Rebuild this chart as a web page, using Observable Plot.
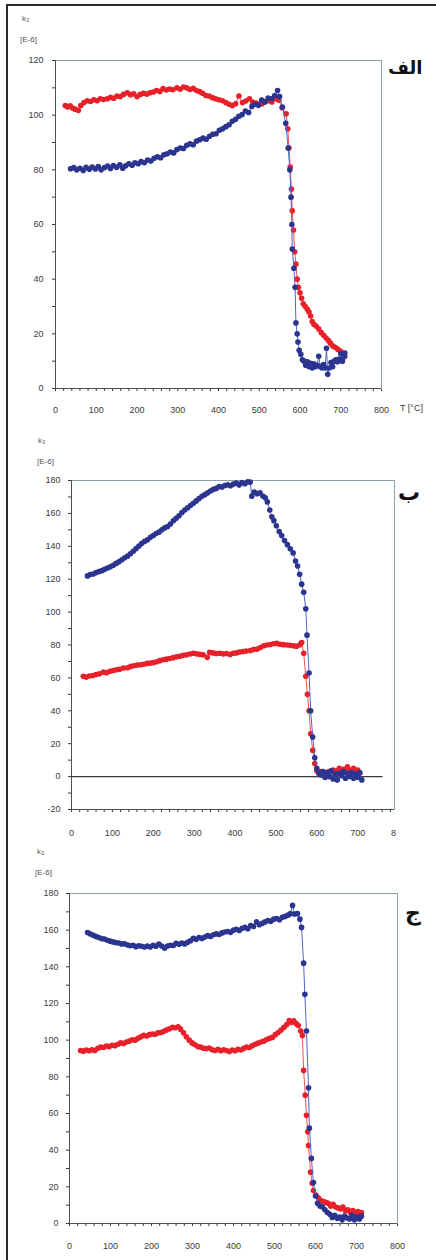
<!DOCTYPE html>
<html><head><meta charset="utf-8">
<script src="https://cdn.jsdelivr.net/npm/d3@7"></script>
<script src="https://cdn.jsdelivr.net/npm/@observablehq/plot@0.6"></script>
<style>
html,body{margin:0;padding:0;background:#fff}
body{width:436px;height:1260px;overflow:hidden;position:relative}
#border{position:absolute;left:6px;top:4px;width:450px;height:1280px;border:2px solid #2b2b2b;box-sizing:border-box}
.panel{position:absolute;left:0;overflow:hidden}
.panel svg{max-width:none !important;display:block}
.tag{position:absolute;font-family:"DejaVu Sans",sans-serif;font-weight:bold;color:#111;direction:rtl;white-space:nowrap}
.unit{position:absolute;font-family:"Liberation Sans Narrow","Liberation Sans",Arial,sans-serif;font-size:8px;color:#555;line-height:10px;white-space:nowrap}
.tlab{position:absolute;font-family:"Liberation Sans Narrow","Liberation Sans",Arial,sans-serif;font-size:9px;color:#3a3a3a;white-space:nowrap}
</style></head>
<body>
<div id="border"></div>
<div id="p1" class="panel" style="top:0;width:436px"></div>
<div id="p2" class="panel" style="top:430px;width:396px"></div>
<div id="p3" class="panel" style="top:850px;width:436px"></div>
<div class="unit" style="left:22px;top:14px">k₃</div>
<div class="unit" style="left:20px;top:35px">[E-6]</div>
<div class="unit" style="left:38px;top:436px">k₃</div>
<div class="unit" style="left:37px;top:457px">[E-6]</div>
<div class="unit" style="left:37px;top:847px">k₃</div>
<div class="unit" style="left:35px;top:868px">[E-6]</div>
<div class="tlab" style="left:400px;top:403px">T [°C]</div>
<div class="tag" style="left:388px;top:57px;font-size:18px">الف</div>
<div class="tag" style="left:398px;top:480px;font-size:22px">ب</div>
<div class="tag" style="left:405px;top:900px;font-size:22px">ج</div>
<script>
// ---- Panel الف : k3 (E-6) vs T (°C)
const p1Red = [[24,103.5],[30,103],[36,103.4],[42,102.6],[48,102.2],[56,101.7],[62,103.5],[70,104.6],[78,105.3],[86,105],[94,105.6],[102,105.3],[110,106],[118,105.7],[127,106],[135,106.5],[143,106.2],[151,107],[159,106.8],[167,107.6],[176,108.2],[184,107.5],[192,107.8],[200,106.8],[208,107.6],[216,108],[224,107.7],[232,108.2],[240,108.5],[248,109],[256,108.7],[264,109.7],[272,109.2],[280,109.6],[288,109.3],[298,110],[306,109.5],[314,110.3],[322,110],[330,109.4],[338,109.8],[346,109],[354,108.6],[361,108],[369,107.2],[377,107],[385,106.4],[393,106],[401,105.6],[410,105.3],[418,104.6],[426,104],[434,103.5],[442,104.2],[450,107],[459,104.6],[467,105.2],[476,106],[484,104.8],[492,104.4],[500,104],[507,104.2],[515,105],[523,105.3],[531,104.8],[541,106],[548,105.5],[556,102.7],[566,100.5],[570,95],[573,88],[576,81],[579,73],[581,65],[584,58],[587,50],[590,45.5],[593,40],[596,37],[600,35],[604,33],[608,31],[613,30],[618,29],[622,28],[626,26.5],[630,24.5],[634,23.5],[640,22.8],[646,21.8],[652,20.5],[658,19.5],[664,18.5],[670,17.5],[675,16.5],[681,15.5],[687,15],[693,14.3],[700,13.6],[705,12.5],[710,11.8]];
const p1Blue = [[37,80.4],[45,80.8],[52,80],[60,80.6],[68,79.8],[75,80.9],[83,80.2],[90,81],[98,80.3],[105,81.2],[112,80],[120,80.8],[128,81.4],[135,80.5],[142,81.6],[150,80.9],[158,81.8],[165,80.6],[172,81.5],[180,82.2],[188,81.7],[195,82.6],[203,82.2],[210,83],[218,82.6],[226,83.6],[234,83.2],[242,84.2],[250,84.8],[258,84.4],[266,85.5],[274,85.9],[282,86.5],[290,86.2],[298,87.4],[306,88],[314,87.8],[322,89],[330,89.5],[338,89.2],[346,90.5],[354,91],[362,91.6],[370,91.2],[378,92.3],[386,93],[394,93.2],[402,94.5],[410,95],[418,95.8],[426,96.5],[434,97.8],[442,98.5],[450,99.6],[458,100.2],[466,101.5],[474,101],[482,103.2],[490,104],[498,103.6],[506,105.5],[514,104.8],[522,106.3],[530,106],[538,107.2],[545,109],[550,106.8],[557,103],[565,97],[571,88],[575,80],[578,70],[580,60],[581,51],[585,44],[588,37],[590,24],[593,20],[595,17],[598,14],[602,12.5],[606,10.5],[610,10],[614,8.5],[618,9.8],[622,8],[626,9.2],[630,7.5],[634,9],[638,8],[642,8.5],[646,11.8],[650,8],[654,7.5],[658,8.8],[662,7.5],[665,14.7],[668,5.2],[672,7.5],[676,9.5],[680,8],[684,10],[688,10.5],[692,9.8],[696,10.8],[700,12.8],[704,10],[708,11.5],[710,13]];

// ---- Panel ب
const p2Red = [[29,61],[36,60.5],[44,61.2],[52,61.5],[60,62],[68,62.5],[78,63.5],[86,63.2],[94,64],[102,64.5],[110,65],[118,65.3],[127,66],[137,66.2],[145,67],[153,67.4],[161,67.8],[169,68],[177,68.3],[185,68.8],[193,69],[200,69.3],[208,69.8],[216,70.5],[224,71],[232,71.4],[240,71.8],[249,72.3],[257,72.8],[265,73.2],[273,73.7],[281,74],[290,74.5],[298,75],[306,74.6],[314,74.3],[322,74],[332,72.5],[338,75.5],[346,75.2],[354,74.8],[362,75],[371,74.6],[379,74.8],[388,74.2],[395,75],[403,75.2],[411,75.7],[419,76],[427,76.3],[437,76.6],[445,77.2],[454,77.5],[462,78.5],[470,79.5],[478,80],[486,80.3],[494,80.8],[502,81],[510,80.5],[518,80.2],[527,80],[535,79.8],[543,79.5],[550,79.2],[558,80],[563,81.5],[568,75],[573,61],[577,50],[581,40],[585,26],[590,16],[595,8],[600,3.6],[605,2],[610,3],[615,1.5],[620,2.5],[625,1],[630,3],[635,2],[640,4],[645,2.5],[650,3.5],[655,5],[660,3],[665,4.5],[670,2.5],[675,6],[680,4],[685,3],[690,5],[695,3.5],[700,4],[705,2]];
const p2Blue = [[39,122],[46,122.8],[53,123.2],[60,124],[67,124.6],[74,125.2],[81,126],[88,126.8],[95,127.6],[102,128.5],[109,129.6],[116,130.6],[123,131.8],[130,133],[137,134],[144,135.5],[151,137],[158,138.6],[165,140.2],[172,141.8],[179,143],[186,144],[193,145.5],[200,146.6],[207,147.8],[214,148.6],[221,150],[228,151.2],[235,152],[242,153.6],[249,155.5],[256,157],[263,158.6],[270,160.5],[277,162],[284,163.4],[291,164.8],[298,166.2],[305,167.6],[312,169],[319,170.4],[326,171.4],[333,172.5],[340,173.6],[347,174.6],[354,175.2],[361,176.3],[368,176],[375,177],[382,177.4],[389,176.8],[396,177.8],[403,178.4],[410,177.2],[417,178.8],[424,178],[431,179.2],[437,179],[441,170.5],[447,173],[454,172],[461,172.5],[468,170.6],[474,169.5],[479,167],[485,162],[490,158],[495,155.6],[501,152.5],[508,149],[514,146.5],[521,143.5],[528,141],[535,138.5],[542,136],[548,131],[553,128],[558,123],[563,117],[568,112],[573,102],[576,86],[581,63],[585,40],[590,24],[595,11.5],[600,5],[605,2],[610,1],[615,3],[620,-0.5],[625,2.5],[630,0],[635,3.5],[640,-1.5],[645,1.5],[650,-2],[655,2],[660,0.5],[665,3],[670,-1],[675,2],[680,0],[685,2.5],[690,-1],[695,1.5],[700,-0.5],[705,2.5],[710,-2]];

// ---- Panel ج
const p3Red = [[27,94.4],[34,94],[41,94.6],[48,94.2],[55,94.8],[62,94.4],[69,95.6],[76,96.2],[83,96],[90,96.8],[97,96.5],[104,97.2],[111,97],[118,97.8],[125,98.5],[132,98.2],[139,99],[146,99.5],[153,100.2],[160,100],[167,101],[174,101.8],[181,102.6],[188,102.3],[195,103],[202,103.4],[209,103.2],[216,104],[223,104.2],[230,104.8],[237,105.6],[244,106.2],[251,107],[258,106.8],[265,107.3],[271,106],[278,104],[285,101.8],[292,100],[299,98.5],[306,97.5],[313,96.5],[320,96.2],[327,95.6],[334,95.4],[341,95.7],[348,94.8],[355,94.4],[362,95],[369,94.2],[376,94.8],[383,94.4],[390,93.8],[397,94.6],[404,94.2],[411,95],[418,94.6],[425,95.5],[432,96.2],[439,96],[446,97],[453,97.8],[460,98.4],[467,99],[474,99.5],[481,100.4],[488,101],[495,101.5],[502,103],[509,104.2],[516,105.5],[523,107],[530,108.5],[536,110.7],[541,109.7],[547,110.5],[553,109],[558,108],[564,105],[568,102.6],[571,83.5],[575,70],[578,59],[581,50],[583,42.5],[588,28],[592,22],[595,18],[601,15.5],[607,14],[613,12.5],[619,12],[625,11.5],[631,11],[637,9.5],[643,10.5],[649,9],[655,8.5],[661,8],[667,9],[673,7],[679,7.5],[685,6],[691,7],[697,5.5],[703,6.5],[708,5],[712,6]];
const p3Blue = [[44,158.7],[50,158],[57,157.3],[64,156.6],[71,156],[78,155.4],[85,155.2],[92,154.5],[99,154],[106,153.6],[113,153.2],[120,153],[127,152.5],[134,152.6],[141,152],[148,151.5],[155,151.8],[162,151],[169,151.5],[176,151.2],[183,150.8],[190,151.4],[197,150.8],[204,151.8],[211,151.2],[218,152.4],[225,151.4],[232,150.2],[239,151.4],[246,151.8],[253,151.6],[260,152.8],[267,152.3],[274,153],[281,152.5],[288,153.4],[295,154.2],[302,155.5],[309,155],[316,156],[323,155.5],[330,156.3],[337,157],[344,156.6],[351,157.5],[358,158],[365,157.6],[372,158.5],[379,159],[386,159.3],[393,158.8],[400,160],[407,160.5],[414,159.8],[421,161],[428,161.5],[435,160.8],[442,162.5],[449,162],[456,164.5],[463,163],[470,163.7],[477,164.5],[484,165.3],[491,164.8],[498,166],[505,166.4],[512,165.7],[519,167],[526,167.5],[533,168.2],[539,169],[544,173.5],[549,168.8],[556,169],[562,166],[566,161.5],[571,142],[574,125],[578,105],[583,74],[585,52],[590,35.5],[595,22.4],[600,15],[605,11],[611,9.5],[617,9],[623,7.5],[629,6],[635,5],[641,3.3],[647,4.5],[653,2.8],[659,3.5],[665,2],[671,4],[677,3],[683,2.5],[689,4.5],[695,2],[701,3.5],[707,2.5],[712,4]];

// ---- tick values
const xTickLabels = [0,100,200,300,400,500,600,700,800];
const xMinorStep = 20;
const yMinorStep = 10;
const yLabelStep = 20;
const p2ZeroLineEnd = 762;

const redDot = "#e8202a", redLine = "#f2505a";
const blueDot = "#2b3590", blueLine = "#5563c4";
const frameColor = "#8fa2ab", axisColor = "#505050";

function panel(el, cfg) {
  const xt = d3.range(0, 801, xMinorStep);
  const yt = d3.range(cfg.yDomain[0], cfg.yDomain[1] + 1, yMinorStep);
  const marks = [
    Plot.frame({stroke: frameColor}),
    Plot.ruleX([cfg.xDomain[0]], {stroke: axisColor}),
    Plot.ruleY([cfg.yDomain[0]], {stroke: axisColor})
  ];
  if (cfg.zero) marks.push(Plot.ruleY([0], {x1: 0, x2: p2ZeroLineEnd, stroke: "#3a3a3a", strokeWidth: 1.2}));
  marks.push(
    Plot.line(cfg.red, {x: d => d[0], y: d => d[1], stroke: redLine, strokeWidth: 1}),
    Plot.dot(cfg.red, {x: d => d[0], y: d => d[1], r: 2.8, fill: redDot, stroke: "none"}),
    Plot.line(cfg.blue, {x: d => d[0], y: d => d[1], stroke: blueLine, strokeWidth: 1}),
    Plot.dot(cfg.blue, {x: d => d[0], y: d => d[1], r: 2.8, fill: blueDot, stroke: "none"})
  );
  const svg = Plot.plot({
    width: 436, height: cfg.height,
    marginTop: cfg.mt, marginBottom: cfg.mb, marginLeft: cfg.ml, marginRight: cfg.mr,
    style: {background: "transparent", color: "#3a3a3a", fontSize: "9px", maxWidth: "none",
            fontFamily: "'Liberation Sans Narrow','Liberation Sans',Arial,sans-serif"},
    x: {domain: cfg.xDomain, ticks: xt, tickSize: 3, tickPadding: cfg.xPad,
        tickFormat: d => xTickLabels.includes(d) ? String(d) : "", label: null},
    y: {domain: cfg.yDomain, ticks: yt, tickSize: 3, tickPadding: cfg.yPad,
        tickFormat: d => d % yLabelStep === 0 ? String(d) : "", label: null},
    marks
  });
  svg.style.maxWidth = "none";
  document.getElementById(el).appendChild(svg);
}

panel("p1", {red: p1Red, blue: p1Blue, xDomain: [0, 800], yDomain: [0, 120],
  height: 425, mt: 60, mb: 37, ml: 55, mr: 55, xPad: 15, yPad: 9});
panel("p2", {red: p2Red, blue: p2Blue, xDomain: [0, 790], yDomain: [-20, 180], zero: true,
  height: 420, mt: 50, mb: 41, ml: 71, mr: 42, xPad: 17, yPad: 8});
panel("p3", {red: p3Red, blue: p3Blue, xDomain: [0, 800], yDomain: [0, 180],
  height: 410, mt: 43, mb: 37, ml: 69, mr: 39, xPad: 16, yPad: 8});
</script>
</body></html>
